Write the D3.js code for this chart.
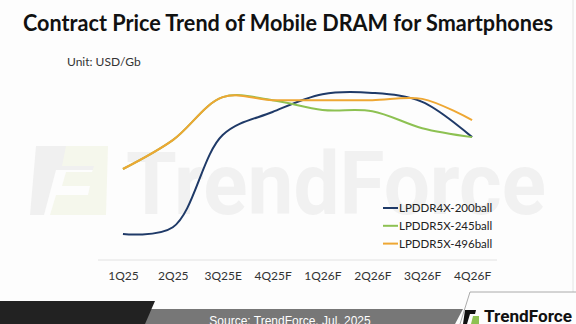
<!DOCTYPE html>
<html>
<head>
<meta charset="utf-8">
<script src="https://cdn.jsdelivr.net/npm/d3@7"></script>
<style>
  html, body { margin: 0; padding: 0; background: #fff; }
  svg { display: block; }
</style>
</head>
<body>
<div id="chart"></div>
<script>
// quarters on the x axis
var quarters = ["1Q25", "2Q25", "3Q25E", "4Q25F", "1Q26F", "2Q26F", "3Q26F", "4Q26F"];

// USD/Gb (no y axis in the original)
var lp4x200 = [0.247, 0.263, 0.480, 0.534, 0.576, 0.579, 0.558, 0.475];
var lp5x245 = [0.400, 0.468, 0.569, 0.562, 0.539, 0.536, 0.496, 0.475];
var lp5x496 = [0.400, 0.468, 0.569, 0.562, 0.562, 0.562, 0.565, 0.515];

var seriesNames = ["LPDDR4X-200ball", "LPDDR5X-245ball", "LPDDR5X-496ball"];
var seriesColors = ["#1f3a68", "#8dc152", "#eea733"];

var W = 576, H = 324;

var svg = d3.select("#chart").append("svg")
  .attr("width", W)
  .attr("height", H)
  .attr("viewBox", "0 0 " + W + " " + H);

svg.append("rect").attr("width", W).attr("height", H).attr("fill", "#fdfdfd");

// faint frame on the right side
svg.append("line")
  .attr("x1", 573).attr("x2", 573).attr("y1", 0).attr("y2", 292)
  .attr("stroke", "#e4e4e4").attr("stroke-width", 1);

// watermark
var wm = svg.append("g").attr("class", "watermark");
wm.append("path")
  .attr("d", "M36,146 L100,146 L94,170 L56,170 L44,215 L30,215 Z")
  .attr("fill", "#f0f0f0");
wm.append("path")
  .attr("d", "M66,146 L108,146 L106,215 L50,215 L56,195 L88,195 L90,186 L62,186 L66,172 L92,172 L94,166 L62,166 Z")
  .attr("fill", "#f5f7ec");
wm.append("text")
  .attr("x", 126).attr("y", 214)
  .attr("font-family", "Roboto, 'Open Sans', sans-serif")
  .attr("font-weight", "bold")
  .attr("font-size", "88px")
  .attr("fill", "#f1f1f1")
  .attr("textLength", 420)
  .attr("lengthAdjust", "spacingAndGlyphs")
  .text("TrendForce");

// title
svg.append("text")
  .attr("x", 288).attr("y", 31)
  .attr("text-anchor", "middle")
  .attr("font-family", "Lato, 'Open Sans', sans-serif")
  .attr("font-weight", "bold")
  .attr("font-size", "23px")
  .attr("fill", "#111")
  .attr("textLength", 530)
  .attr("lengthAdjust", "spacingAndGlyphs")
  .text("Contract Price Trend of Mobile DRAM for Smartphones");

svg.append("text")
  .attr("x", 67).attr("y", 66)
  .attr("font-family", "Lato, 'Open Sans', sans-serif")
  .attr("font-size", "12px")
  .attr("fill", "#333")
  .text("Unit: USD/Gb");

// scales
var x = d3.scalePoint()
  .domain(quarters)
  .range([98, 497])
  .padding(0.5);

var y = d3.scaleLinear()
  .domain([0.2, 0.6])
  .range([254, 84]);

// axis baseline + labels
var xAxis = svg.append("g")
  .attr("transform", "translate(0,260)")
  .call(d3.axisBottom(x).tickSize(0).tickPadding(11));
xAxis.select(".domain").attr("stroke", "#e2e2e2").attr("d", "M98,0H497");
xAxis.selectAll("text")
  .attr("font-family", "Lato, 'Open Sans', sans-serif")
  .attr("font-size", "12px")
  .attr("fill", "#333");

// lines
var line = d3.line()
  .x(function(d, i) { return x(quarters[i]); })
  .y(function(d) { return y(d); })
  .curve(d3.curveCatmullRom.alpha(0.5));

var allSeries = [lp4x200, lp5x245, lp5x496];

svg.selectAll("path.series")
  .data(allSeries)
  .enter().append("path")
  .attr("class", "series")
  .attr("fill", "none")
  .attr("stroke", function(d, i) { return seriesColors[i]; })
  .attr("stroke-width", 2)
  .attr("d", line);

// legend
var legend = svg.selectAll("g.legend")
  .data(seriesNames)
  .enter().append("g")
  .attr("class", "legend")
  .attr("transform", function(d, i) { return "translate(383," + (208 + i * 17.8) + ")"; });

legend.append("line")
  .attr("x1", 0).attr("x2", 15)
  .attr("stroke", function(d, i) { return seriesColors[i]; })
  .attr("stroke-width", 2);

legend.append("text")
  .attr("x", 16).attr("dy", 4)
  .attr("font-family", "Lato, 'Open Sans', sans-serif")
  .attr("font-size", "11.5px")
  .attr("fill", "#222")
  .text(function(d) { return d; });

// footer
var foot = svg.append("g").attr("class", "footer");
foot.append("path")
  .attr("d", "M140,309 L463,309 L455,324 L132,324 Z")
  .attr("fill", "#777");
foot.append("path")
  .attr("d", "M0,301 L155,301 L145,324 L0,324 Z")
  .attr("fill", "#222");
foot.append("path")
  .attr("d", "M460,324 L470,292 L576,292")
  .attr("fill", "none")
  .attr("stroke", "#aaa")
  .attr("stroke-width", 1);
foot.append("text")
  .attr("x", 290).attr("y", 325)
  .attr("text-anchor", "middle")
  .attr("font-family", "'Liberation Sans', Arial, sans-serif")
  .attr("font-size", "12px")
  .attr("fill", "#fff")
  .text("Source: TrendForce, Jul. 2025");

// logo
foot.append("path")
  .attr("d", "M465,310 L476,310 L475,314 L470,314 L467,324 L463,324 Z")
  .attr("fill", "#111");
foot.append("path")
  .attr("d", "M473,316 L479,316 L479,324 L471,324 Z")
  .attr("fill", "#8dc152");
foot.append("text")
  .attr("x", 484).attr("y", 322)
  .attr("font-family", "Roboto, 'Open Sans', sans-serif")
  .attr("font-weight", "bold")
  .attr("font-size", "17px")
  .attr("fill", "#111")
  .attr("textLength", 88)
  .attr("lengthAdjust", "spacingAndGlyphs")
  .text("TrendForce");
</script>
</body>
</html>
